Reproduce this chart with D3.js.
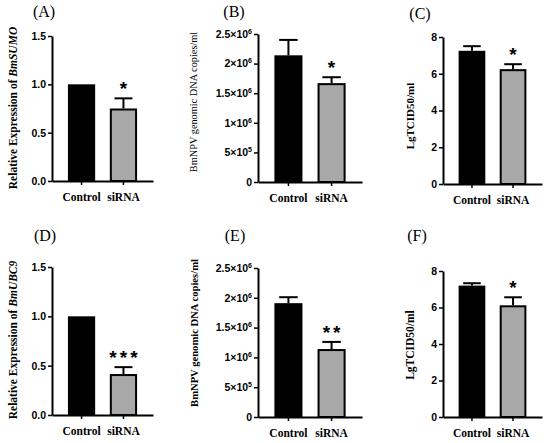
<!DOCTYPE html>
<html>
<head>
<meta charset="utf-8">
<script src="https://cdn.jsdelivr.net/npm/d3@7"></script>
<style>
  body { margin: 0; background: #fff; }
  svg { display: block; }
</style>
</head>
<body>
<script>
// Data
var categories = ["Control", "siRNA"];

var sumoExprMean = [1.0, 0.75];
var sumoExprErr = [0, 0.105];
var sumoCopyMean = [2.14e6, 1.67e6];
var sumoCopyErr = [0.26e6, 0.10e6];
var sumoTiterMean = [7.25, 6.25];
var sumoTiterErr = [0.25, 0.27];

var ubcExprMean = [1.0, 0.415];
var ubcExprErr = [0, 0.07];
var ubcCopyMean = [1.91e6, 1.14e6];
var ubcCopyErr = [0.10e6, 0.12e6];
var ubcTiterMean = [7.2, 6.12];
var ubcTiterErr = [0.13, 0.44];

var sumoStars = ["*", "*", "*"];
var ubcStars = ["***", "**", "*"];

var exprTicks = [0, 0.5, 1.0, 1.5];
var copyTicks = [0, 5e5, 1e6, 1.5e6, 2e6, 2.5e6];
var titerTicks = [0, 2, 4, 6, 8];

var serif = "'Liberation Serif', 'Times New Roman', serif";
var sans = "'Liberation Sans', Arial, sans-serif";

var svg = d3.select("body").append("svg")
  .attr("width", 550)
  .attr("height", 443);

// number -> "2.5×10" + exponent
function sciParts(v) {
  if (v === 0) return ["0", ""];
  var e = Math.floor(Math.log10(v));
  var m = +(v / Math.pow(10, e)).toFixed(2);
  return [m + "×10", String(e)];
}

var panels = [
  { letter: "(A)", lx: 44, ly: 17, left: 52, right: 153, top: 36, bottom: 181,
    mean: sumoExprMean, err: sumoExprErr, star: sumoStars[0], ticks: exprTicks, kind: "expr",
    title: ["Relative Expression of ", "BmSUMO"], tx: 17, ty: 108, tsize: 11.5, tbold: true },
  { letter: "(B)", lx: 234, ly: 17, left: 258, right: 362, top: 34, bottom: 182,
    mean: sumoCopyMean, err: sumoCopyErr, star: sumoStars[1], ticks: copyTicks, kind: "copy",
    title: ["BmNPV genomic DNA copies/ml", ""], tx: 197, ty: 102, tsize: 10.3, tbold: false },
  { letter: "(C)", lx: 420, ly: 19, left: 443, right: 542, top: 37, bottom: 184,
    mean: sumoTiterMean, err: sumoTiterErr, star: sumoStars[2], ticks: titerTicks, kind: "titer",
    title: ["LgTCID50/ml", ""], tx: 414, ty: 116, tsize: 11, tbold: true },
  { letter: "(D)", lx: 45, ly: 241, left: 52, right: 153, top: 267, bottom: 415,
    mean: ubcExprMean, err: ubcExprErr, star: ubcStars[0], ticks: exprTicks, kind: "expr",
    title: ["Relative Expression of ", "BmUBC9"], tx: 17, ty: 340, tsize: 11.5, tbold: true },
  { letter: "(E)", lx: 235, ly: 241, left: 258, right: 362, top: 268, bottom: 417,
    mean: ubcCopyMean, err: ubcCopyErr, star: ubcStars[1], ticks: copyTicks, kind: "copy",
    title: ["BmNPV genomic DNA copies/ml", ""], tx: 198, ty: 333, tsize: 10.6, tbold: true },
  { letter: "(F)", lx: 417, ly: 241, left: 443, right: 542, top: 271, bottom: 417,
    mean: ubcTiterMean, err: ubcTiterErr, star: ubcStars[2], ticks: titerTicks, kind: "titer",
    title: ["LgTCID50/ml", ""], tx: 414, ty: 345, tsize: 11.5, tbold: true }
];

function drawPanel(p) {
  var g = svg.append("g");

  var x = d3.scaleBand()
    .domain(categories)
    .range([p.left, p.right])
    .paddingInner(0.35)
    .paddingOuter(0.38);
  var y = d3.scaleLinear()
    .domain([0, p.ticks[p.ticks.length - 1]])
    .range([p.bottom, p.top]);

  // bars
  var rows = categories.map(function(c, i) { return { cat: c, v: p.mean[i], e: p.err[i], i: i }; });
  g.selectAll("rect.bar")
      .data(rows).enter()
    .append("rect")
      .attr("class", "bar")
      .attr("x", function(d) { return x(d.cat) + (d.i ? 1 : 0); })
      .attr("y", function(d) { return y(d.v) + (d.i ? 1 : 0); })
      .attr("width", function(d) { return x.bandwidth() - (d.i ? 2 : 0); })
      .attr("height", function(d) { return y(0) - y(d.v) - (d.i ? 1 : 0); })
      .attr("fill", function(d) { return d.i ? "#a8a8a8" : "#000"; })
      .attr("stroke", "#000")
      .attr("stroke-width", function(d) { return d.i ? 2 : 0; });

  // error bars (upper only)
  var cap = x.bandwidth() * 0.66;
  rows.filter(function(d) { return d.e > 0; }).forEach(function(d) {
    var cx = x(d.cat) + x.bandwidth() / 2;
    g.append("line")
      .attr("x1", cx).attr("x2", cx)
      .attr("y1", y(d.v)).attr("y2", y(d.v + d.e))
      .attr("stroke", "#000").attr("stroke-width", 2);
    g.append("line")
      .attr("x1", cx - cap / 2).attr("x2", cx + cap / 2)
      .attr("y1", y(d.v + d.e)).attr("y2", y(d.v + d.e))
      .attr("stroke", "#000").attr("stroke-width", 2);
  });

  // significance stars over siRNA
  var s = rows[1];
  var spacing = p.star.length > 1 ? 3 : 0;
  g.append("text")
    .attr("x", x(s.cat) + x.bandwidth() / 2 + spacing / 2)
    .attr("y", y(s.v + s.e) - 3)
    .attr("text-anchor", "middle")
    .attr("font-family", sans)
    .attr("font-weight", "bold")
    .attr("font-size", 19)
    .attr("letter-spacing", spacing)
    .text(p.star);

  // y axis
  var yAxis = d3.axisLeft(y)
    .tickValues(p.ticks)
    .tickSize(4)
    .tickSizeOuter(0)
    .tickPadding(2)
    .tickFormat(function(v) { return p.kind === "expr" ? d3.format(".1f")(v) : String(v); });
  var ya = g.append("g")
    .attr("transform", "translate(" + p.left + ",0)")
    .call(yAxis);
  ya.select(".domain").attr("stroke-width", 2);
  ya.selectAll(".tick line").attr("stroke-width", 1.5);
  ya.selectAll(".tick text")
    .attr("font-family", sans)
    .attr("font-weight", "bold")
    .attr("font-size", 10.5)
    .attr("fill", "#000");
  if (p.kind === "copy") {
    ya.selectAll(".tick text").each(function(v) {
      var t = d3.select(this).text(null);
      var parts = sciParts(v);
      t.append("tspan").text(parts[0]);
      if (parts[1]) {
        t.append("tspan").attr("dy", -4).attr("font-size", 7).text(parts[1]);
      }
    });
  }

  // x axis
  var xAxis = d3.axisBottom(x)
    .tickSize(4)
    .tickSizeOuter(0)
    .tickPadding(8);
  var xa = g.append("g")
    .attr("transform", "translate(0," + p.bottom + ")")
    .call(xAxis);
  xa.select(".domain").attr("stroke-width", 2);
  xa.selectAll(".tick line").attr("stroke-width", 1.5);
  xa.selectAll(".tick text")
    .attr("font-family", serif)
    .attr("font-weight", "bold")
    .attr("font-size", 11.5)
    .attr("fill", "#000");

  // y title
  var title = g.append("text")
    .attr("transform", "translate(" + p.tx + "," + p.ty + ") rotate(-90)")
    .attr("text-anchor", "middle")
    .attr("font-family", serif)
    .attr("font-weight", p.tbold ? "bold" : "normal")
    .attr("font-size", p.tsize)
    .attr("fill", "#000");
  title.append("tspan").text(p.title[0]);
  if (p.title[1]) title.append("tspan").attr("font-style", "italic").text(p.title[1]);

  // panel letter
  g.append("text")
    .attr("x", p.lx)
    .attr("y", p.ly)
    .attr("text-anchor", "middle")
    .attr("font-family", serif)
    .attr("font-size", 16)
    .attr("fill", "#000")
    .text(p.letter);
}

panels.forEach(drawPanel);
</script>
</body>
</html>
